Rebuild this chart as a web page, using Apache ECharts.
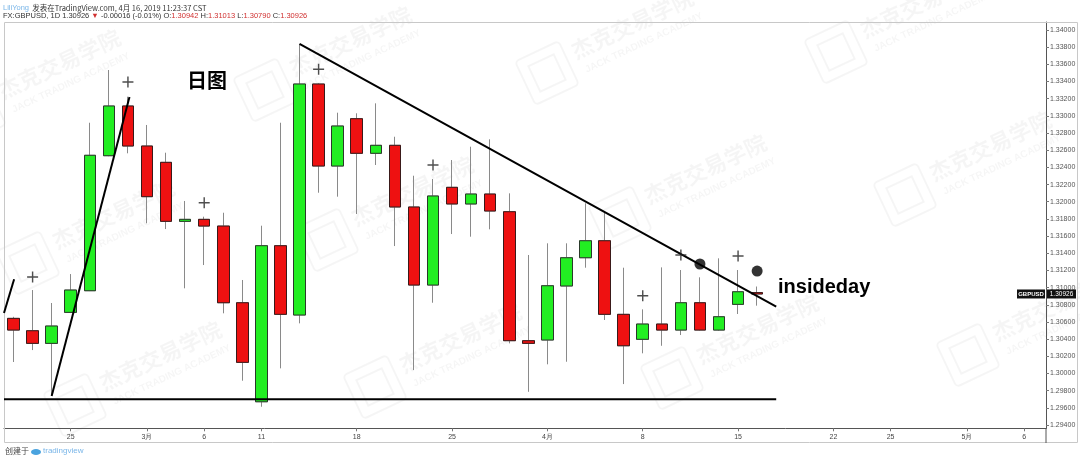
<!DOCTYPE html>
<html><head><meta charset="utf-8">
<script src="https://cdn.jsdelivr.net/npm/echarts@6/dist/echarts.min.js"></script>
<style>html,body{margin:0;padding:0;background:#fff}#c{width:1080px;height:462px}</style>
</head><body><div id="c"></div>
<script>
// ---- data (GBPUSD daily) ----
const dates = ['02-20','02-21','02-22','02-25','02-26','02-27','02-28','03-01','03-04','03-05',
  '03-06','03-07','03-08','03-11','03-12','03-13','03-14','03-15','03-18','03-19',
  '03-20','03-21','03-22','03-25','03-26','03-27','03-28','03-29','04-01','04-02',
  '04-03','04-04','04-05','04-08','04-09','04-10','04-11','04-12','04-15','04-16'];
const opens  = [1.30642,1.30498,1.30351,1.30712,1.30964,1.32536,1.33115,1.32649,1.32459,1.31772,
  1.31795,1.31717,1.30824,1.29671,1.31488,1.30681,1.33371,1.32416,1.32967,1.32564,
  1.32657,1.31939,1.31030,1.32168,1.31974,1.32090,1.31884,1.30382,1.30390,1.31019,
  1.31348,1.31546,1.30689,1.30398,1.30576,1.30506,1.30824,1.30506,1.30805,1.30942];
const closes = [1.30506,1.30351,1.30553,1.30972,1.32541,1.33115,1.32649,1.32059,1.31772,1.31795,
  1.31717,1.30824,1.30130,1.31488,1.30689,1.33371,1.32416,1.32882,1.32564,1.32657,
  1.31939,1.31030,1.32067,1.31974,1.32090,1.31892,1.30382,1.30351,1.31022,1.31348,
  1.31546,1.30689,1.30323,1.30576,1.30506,1.30824,1.30506,1.30661,1.30952,1.30926];
const lows   = [1.30134,1.30273,1.29738,1.30704,1.30960,1.32530,1.32564,1.31749,1.31682,1.30992,
  1.31263,1.30701,1.29916,1.29613,1.30060,1.30584,1.32105,1.32059,1.31857,1.32428,
  1.31484,1.30040,1.30824,1.31624,1.31593,1.31679,1.30351,1.29787,1.30107,1.30137,
  1.31232,1.30623,1.29877,1.30235,1.30323,1.30448,1.30500,1.30498,1.30693,1.30790];
const highs  = [1.30660,1.30972,1.30821,1.31158,1.32920,1.33534,1.33223,1.32894,1.32571,1.32009,
  1.31826,1.31872,1.31089,1.31721,1.32920,1.33837,1.33380,1.33037,1.33030,1.33146,
  1.32757,1.32303,1.32265,1.32486,1.32641,1.32727,1.32098,1.31380,1.31516,1.31516,
  1.31982,1.31884,1.31232,1.30747,1.31236,1.31205,1.31120,1.31341,1.31205,1.31013];
// x-axis tick labels (bar index -> text)
const xTickIdx = [3,7,10,13,18,23,28,33,38,43,46,50,53];
const xTickLabels = ['25','3月','6','11','18','25','4月','8','15','22','25','5月','6'];
// y-axis tick values
const yTicks = [1.294,1.296,1.298,1.300,1.302,1.304,1.306,1.308,1.310,1.312,1.314,1.316,
  1.318,1.320,1.322,1.324,1.326,1.328,1.330,1.332,1.334,1.336,1.338,1.340];
// annotations
const plusIdx = [1,6,10,16,22,33,35,38];
const plusVal = [1.31123,1.33394,1.31989,1.33542,1.32428,1.30906,1.31380,1.31368];
const dotIdx = [36,39];
const dotVal = [1.31275,1.31193];
const prevTrend = [[-0.5,1.30704],[0.03,1.31097]];
const upTrend = [[2,1.29738],[6.08,1.33220]];
const downTrend = [[15,1.33837],[40,1.30778]];
const supportLine = [[-0.5,1.29699],[40,1.29699]];

const chart = echarts.init(document.getElementById('c'));
const candleData = dates.map((d,i)=>[i, opens[i], closes[i], lows[i], highs[i]]);
const bodyData = dates.map((d,i)=>[i, opens[i], closes[i], Math.min(opens[i],closes[i]), Math.max(opens[i],closes[i])]);
const labelMap = {};
xTickIdx.forEach((k,i)=>labelMap[k]=xTickLabels[i]);

const lineSeries = (data)=>({type:'line', data:data, symbol:'none', silent:true, z:6,
  lineStyle:{color:'#000', width:2}});

chart.setOption({
  animation:false,
  grid:{left:4, right:34, top:22, bottom:33.7},
  xAxis:{type:'value', min:-0.5, max:54.15, splitLine:{show:false},
    axisLine:{onZero:false, lineStyle:{color:'#555', width:1}},
    axisTick:{show:true, customValues:xTickIdx, length:3, lineStyle:{color:'#777'}},
    axisLabel:{customValues:xTickIdx, formatter:v=>labelMap[Math.round(v)]||'', fontSize:7, color:'#444', margin:5, fontFamily:'Liberation Sans'}},
  yAxis:{type:'value', position:'right', min:1.29362, max:1.34093, scale:true, splitLine:{show:false},
    axisLine:{show:true, onZero:false, lineStyle:{color:'#555'}},
    axisTick:{show:true, customValues:yTicks, length:3, lineStyle:{color:'#777'}},
    axisLabel:{customValues:yTicks, formatter:v=>v.toFixed(5), fontSize:7, color:'#555', margin:4, fontFamily:'Liberation Sans'}},
  series:[
    {type:'candlestick', data:candleData, encode:{x:0, y:[1,2,3,4]}, barWidth:12, z:2,
      itemStyle:{color:'#22ee22', color0:'#ee1111', borderColor:'#8a8a8a', borderColor0:'#8a8a8a', borderWidth:1}},
    {type:'candlestick', data:bodyData, encode:{x:0, y:[1,2,3,4]}, barWidth:12, z:3,
      itemStyle:{color:'#22ee22', color0:'#ee1111', borderColor:'#2a3a2a', borderColor0:'#3a1a1a', borderWidth:1}},
    lineSeries(prevTrend), lineSeries(upTrend), lineSeries(downTrend), lineSeries(supportLine),
    {type:'scatter', data:plusIdx.map((x,i)=>[x, plusVal[i]]), z:7,
      symbol:'path://M4.35,0H5.65V4.35H10V5.65H5.65V10H4.35V5.65H0V4.35H4.35Z', symbolSize:11,
      itemStyle:{color:'#222'}},
    {type:'scatter', data:dotIdx.map((x,i)=>[x, dotVal[i]]), z:7, symbol:'circle', symbolSize:11,
      itemStyle:{color:'#000'}}
  ]
});

// graphics
const wm = [[-26,113],[265,90],[547,73],[836,52],[28,263],[327,240],[620,218],[905,195],[75,405],[375,387],[672,378],[968,355]];
const wmCol = 'rgba(0,0,0,0.04)';
const g = [];
wm.forEach((p,i)=>{
  g.push({type:'group', x:p[0], y:p[1], rotation:0.44, silent:true, z:0, children:[
    {type:'rect', shape:{x:-24,y:-24,width:48,height:48,r:4}, style:{fill:null, stroke:wmCol, lineWidth:2}},
    {type:'rect', shape:{x:-14,y:-14,width:28,height:28}, style:{fill:null, stroke:wmCol, lineWidth:2}},
    {type:'text', style:{text:'杰克交易学院', x:32, y:-8, font:'bold 22px "Noto Sans CJK SC"', fill:wmCol, textVerticalAlign:'middle'}},
    {type:'text', style:{text:'JACK TRADING ACADEMY', x:36, y:14, font:'bold 10px "Liberation Sans"', fill:wmCol, textVerticalAlign:'middle'}}
  ]});
});
// frame
g.push({type:'rect', shape:{x:4.5,y:22.5,width:1073,height:420}, style:{fill:null, stroke:'#c8c8c8', lineWidth:1}, silent:true, z:1});
g.push({type:'line', shape:{x1:1046,y1:428,x2:1046,y2:443}, style:{stroke:'#555', lineWidth:1}, silent:true, z:1});
// header
g.push({type:'text', left:3, top:2, silent:true, style:{
  text:'{b|LiliYong} {g|发表在TradingView.com, 4月 16, 2019 11:23:37 CST}',
  rich:{b:{fill:'#7ab6e8', font:'7.5px "Liberation Sans"'}, g:{fill:'#333', font:'7.5px "Noto Sans CJK SC"'}}}});
g.push({type:'text', left:3, top:12, silent:true, style:{
  text:'{g|FX:GBPUSD, 1D 1.30926 }{r|▼}{g| -0.00016 (-0.01%) O:}{r|1.30942}{g| H:}{r|1.31013}{g| L:}{r|1.30790}{g| C:}{r|1.30926}',
  rich:{g:{fill:'#333', font:'7.5px "Liberation Sans"'}, r:{fill:'#d03030', font:'7.5px "Liberation Sans"'}}}});
// footer
g.push({type:'text', left:5, top:447, silent:true, style:{text:'创建于', fill:'#444', font:'8px "Noto Sans CJK SC"'}});
g.push({type:'ellipse', shape:{cx:36, cy:452, rx:5, ry:3}, style:{fill:'#4aa3df'}, silent:true});
g.push({type:'text', left:43, top:447, silent:true, style:{text:'tradingview', fill:'#7ab6e8', font:'8px "Liberation Sans"'}});
// annotation texts
g.push({type:'text', left:187, top:70, silent:true, style:{text:'日图', fill:'#000', font:'bold 20px "Noto Sans CJK SC"'}});
g.push({type:'text', left:778, top:277, silent:true, style:{text:'insideday', fill:'#000', font:'bold 20px "Liberation Sans"'}});
// price tag
const py = chart.convertToPixel({yAxisIndex:0}, closes[closes.length-1]);
g.push({type:'rect', shape:{x:1017,y:py-4.5,width:28,height:9}, style:{fill:'#111'}, z:20, silent:true});
g.push({type:'text', style:{text:'GBPUSD', x:1031, y:py, fill:'#fff', font:'bold 6px "Liberation Sans"', textAlign:'center', textVerticalAlign:'middle'}, z:21, silent:true});
g.push({type:'rect', shape:{x:1047,y:py-4.5,width:29,height:9}, style:{fill:'#111'}, z:20, silent:true});
g.push({type:'text', style:{text:closes[closes.length-1].toFixed(5), x:1061.5, y:py, fill:'#fff', font:'6.5px "Liberation Sans"', textAlign:'center', textVerticalAlign:'middle'}, z:21, silent:true});
chart.setOption({graphic:g});
</script></body></html>
